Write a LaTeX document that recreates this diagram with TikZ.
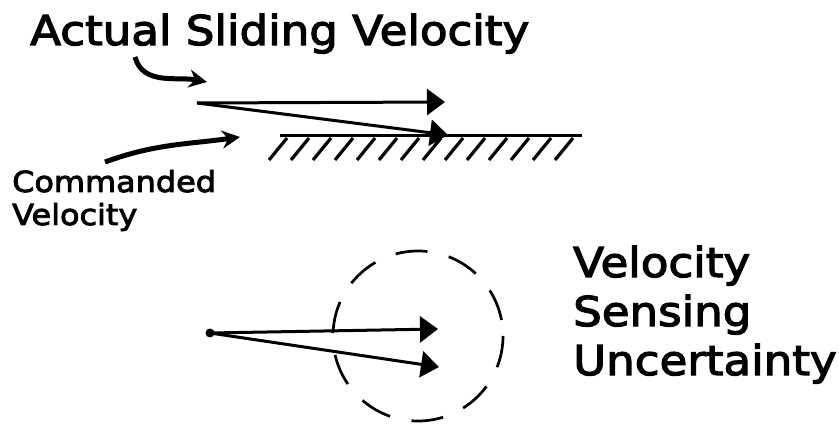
\documentclass[tikz,border=0pt]{standalone}
\usepackage{fontspec}
\newfontfamily\handfont[FakeStretch=1.1,FakeBold=3]{DejaVu Sans}
\usetikzlibrary{positioning,arrows.meta}

\begin{document}
\begin{tikzpicture}[x=1pt,y=-1pt,>={Triangle[length=18pt,width=26pt]},
                    vec/.style={->,line width=3pt},
                    pointer/.style={-{Stealth[length=18pt,width=18pt]},line width=5pt},
                    hatch/.style={line width=3.2pt},
                    lbl/.style={inner sep=0pt,align=left,anchor=base west}]
    \useasboundingbox (0,0) rectangle (839,425);

    % labels (anchored at the baseline of the last line)
    \node[lbl,font=\handfont\fontsize{41}{49}\selectfont] (actual) at (30,45) {Actual Sliding Velocity};
    \node[lbl,font=\handfont\fontsize{29}{33}\selectfont] (cmd) at (12,225) {Commanded\\Velocity};
    \node[lbl,font=\handfont\fontsize{41}{49}\selectfont] (sense) at (573,375) {Velocity\\Sensing\\Uncertainty};

    % sliding on the surface
    \coordinate (o1) at (197,103);
    \coordinate (t1) at (445,102);
    \coordinate (t2) at (448,135);
    \coordinate (g1) at (280,136);
    \coordinate (g2) at (582,136);
    \draw[vec] (o1) -- (t1);
    \draw[vec] (o1) -- (t2);
    \draw[line width=3pt] (g1) -- (g2);
    \foreach \x in {287,309,...,577}
        \draw[hatch] (\x,138) -- ++(-18,22);

    % pointers
    \coordinate (pa) at (135,57);
    \coordinate (pa2) at (207,82);
    \coordinate (pc) at (105,162);
    \coordinate (pc2) at (240,137);
    \draw[pointer] (pa) to[out=-75,in=169] (pa2);
    \draw[pointer] (pc) to[out=20,in=188] (pc2);

    % sensing
    \node[circle,fill,inner sep=0pt,minimum size=9pt] (o2) at (210,333) {};
    \coordinate (t3) at (438,329);
    \coordinate (t4) at (439,367);
    \draw[vec] (o2.center) -- (t3);
    \draw[vec] (o2.center) -- (t4);
    \draw[line width=2.7pt,dash pattern=on 32pt off 22pt] (418,336) circle[radius=85];
\end{tikzpicture}
\end{document}
